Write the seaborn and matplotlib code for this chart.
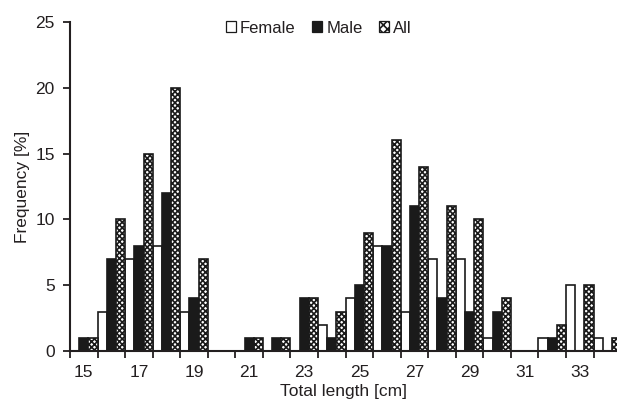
import matplotlib
matplotlib.use("Agg")
import matplotlib.pyplot as plt
from matplotlib.patches import Patch
import numpy as np
import pandas as pd
import seaborn as sns

# Length classes (cm) and frequency (%) per group
lengths = list(range(15, 35))
female = [0, 3, 7, 8, 3, 0, 0, 0, 0, 2, 4, 8, 3, 7, 7, 1, 0, 1, 5, 1]
male = [1, 7, 8, 12, 4, 0, 1, 1, 4, 1, 5, 8, 11, 4, 3, 3, 0, 1, 0, 0]
all_fish = [1, 10, 15, 20, 7, 0, 1, 1, 4, 3, 9, 16, 14, 11, 10, 4, 0, 2, 5, 1]
groups = ["Female", "Male", "All"]
yticks = [0, 5, 10, 15, 20, 25]

df = pd.DataFrame({
    "length": lengths * 3,
    "group": ["Female"] * len(lengths) + ["Male"] * len(lengths) + ["All"] * len(lengths),
    "freq": female + male + all_fish,
})

sns.set_style("ticks")
plt.rcParams["font.family"] = ["Liberation Sans", "DejaVu Sans"]
plt.rcParams["hatch.linewidth"] = 1.2
text_col = "#231f20"
fs = 12.5

fig = plt.figure(figsize=(6.17, 4.08), dpi=100)
ax = fig.add_axes([0.1135, 0.1397, 0.8865, 0.8064])

sns.barplot(data=df, x="length", y="freq", hue="group", hue_order=groups,
            palette={"Female": "white", "Male": "#1a1a1a", "All": "white"},
            order=lengths, width=1.0, gap=0, edgecolor="#1a1a1a", linewidth=1.2,
            saturation=1, errorbar=None, ax=ax, legend=False)

# checkered look for the "All" bars
for cont, g in zip(ax.containers, groups):
    if g == "All":
        for bar in cont:
            bar.set_hatch("xxxxxx")

ax.set_xlim(-0.5, 19.35)
ax.set_ylim(0, 25)
ax.set_yticks(yticks)
ax.set_yticklabels([str(v) for v in yticks])

ax.set_xticks(np.arange(-0.5, len(lengths) - 0.5, 1))
ax.set_xticklabels([])
ax.set_xticks(np.arange(0, len(lengths), 2), minor=True)
ax.set_xticklabels([str(v) for v in lengths[::2]], minor=True)
ax.tick_params(axis="both", which="major", length=5, width=1.3, color=text_col,
               direction="out", labelsize=fs, labelcolor=text_col)
ax.tick_params(axis="y", pad=6)
ax.tick_params(axis="x", which="minor", length=0, pad=10, labelsize=fs, labelcolor=text_col)

sns.despine(ax=ax)
for s in ["left", "bottom"]:
    ax.spines[s].set_linewidth(1.5)
    ax.spines[s].set_color(text_col)

ax.set_xlabel("Total length [cm]", fontsize=fs, color=text_col, labelpad=3)
ax.set_ylabel("Frequency [%]", fontsize=fs, color=text_col, labelpad=3.5)

handles = [
    Patch(facecolor="white", edgecolor="#1a1a1a", linewidth=0.9, label="Female"),
    Patch(facecolor="#1a1a1a", edgecolor="#1a1a1a", linewidth=0.9, label="Male"),
    Patch(facecolor="white", edgecolor="#1a1a1a", linewidth=0.9, hatch="xxxx", label="All"),
]
leg = ax.legend(handles=handles, loc="upper center", bbox_to_anchor=(0.455, 1.05),
                ncol=3, frameon=False, handlelength=0.6, handleheight=0.6,
                handletextpad=0.25, columnspacing=1.0, fontsize=12)
for t in leg.get_texts():
    t.set_color(text_col)

fig.savefig("out.png", dpi=100)
